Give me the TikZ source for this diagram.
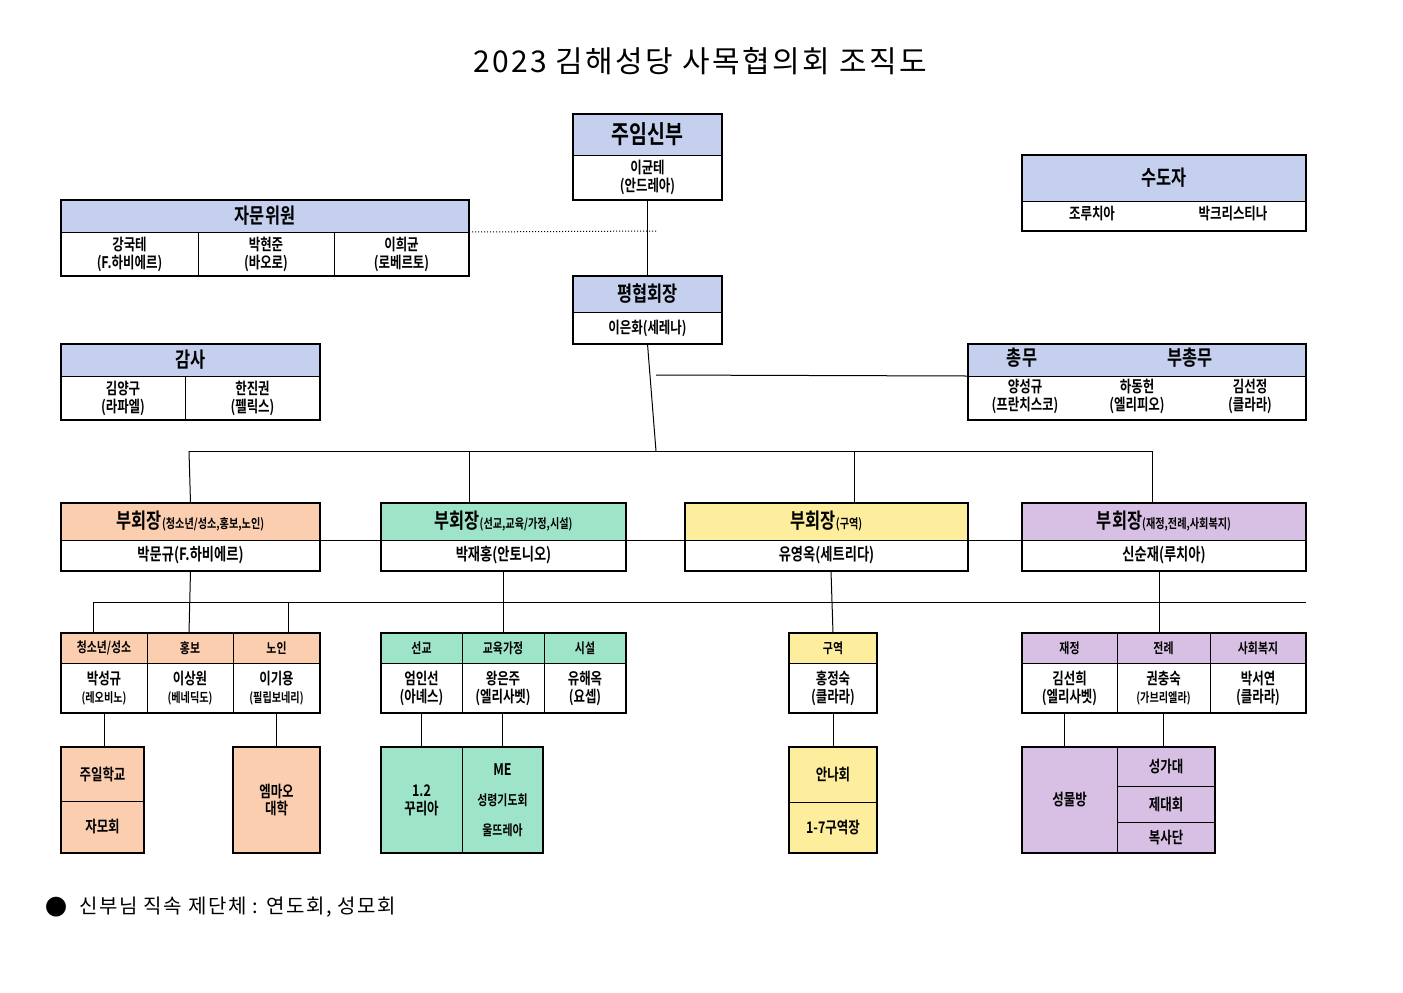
\documentclass[tikz,border=0pt]{standalone}
\usepackage{fontspec}
\setmainfont{Noto Sans CJK KR}[BoldFont={* Bold}]
\newfontfamily\condf{Noto Sans CJK KR Bold}[FakeStretch=0.78]
\newfontfamily\titlef{Noto Sans CJK KR}[LetterSpace=8]
\definecolor{hdblue}{RGB}{196,208,238}
\definecolor{hdpeach}{RGB}{252,206,176}
\definecolor{hdgreen}{RGB}{158,228,200}
\definecolor{hdyellow}{RGB}{253,238,158}
\definecolor{hdpurple}{RGB}{216,192,228}
\newcommand\bigtxt{\condf\fontsize{12.5}{14}\selectfont}
\newcommand\midtxt{\condf\fontsize{10.5}{12}\selectfont}
\newcommand\smalltxt{\condf\fontsize{7}{8}\selectfont}
\tikzset{
  cellbox/.style={draw, line width=0.5pt, inner sep=0pt, outer sep=0pt, align=center, font=\condf\fontsize{8}{9}\selectfont},
  frame/.style={draw, line width=1.1pt},
  link/.style={draw, line width=0.5pt},
}
% name, x, y, width, height, fill, text
\newcommand\cell[7]{\node[cellbox, fill=#6, minimum width=#4*0.5pt, minimum height=#5*0.5pt, anchor=north west] (#1) at (#2,#3) {#7};}
\newcommand\sub[1]{{\fontsize{6.5}{7}\selectfont #1}}
\begin{document}
\begin{tikzpicture}[x=0.5pt, y=-0.5pt]
\useasboundingbox (0,0) rectangle (1403,992);
\node[font=\titlef\fontsize{15}{18}\selectfont] (title) at (700,61) {2023 김해성당 사목협의회 조직도};

% top
\cell{jh}{573}{114}{149}{41}{hdblue}{\bigtxt 주임신부}
\cell{jb}{573}{155}{149}{45}{white}{이균테\\(안드레아)}
\draw[frame] (jh.north west) rectangle (jb.south east);

\cell{ph}{573}{276}{149}{36}{hdblue}{\midtxt 평협회장}
\cell{pb}{573}{312}{149}{32}{white}{이은화(세레나)}
\draw[frame] (ph.north west) rectangle (pb.south east);

\cell{ah}{61}{200}{408}{32}{hdblue}{\midtxt 자문위원}
\cell{a1}{61}{232}{137}{44}{white}{강국테\\(F.하비에르)}
\cell{a2}{198}{232}{136}{44}{white}{박현준\\(바오로)}
\cell{a3}{334}{232}{135}{44}{white}{이희균\\(로베르토)}
\draw[frame] (ah.north west) rectangle (a3.south east);

\cell{gh}{61}{344}{259}{32}{hdblue}{\midtxt 감사}
\cell{g1}{61}{376}{124}{44}{white}{김양구\\(라파엘)}
\cell{g2}{185}{376}{135}{44}{white}{한진권\\(펠릭스)}
\draw[frame] (gh.north west) rectangle (g2.south east);

\cell{sh}{1022}{155}{284}{46}{hdblue}{\midtxt 수도자}
\cell{sb}{1022}{201}{284}{30}{white}{}
\node[cellbox, draw=none] (s1) at (1092,214) {조루치아};
\node[cellbox, draw=none] (s2) at (1233,214) {박크리스티나};
\draw[frame] (sh.north west) rectangle (sb.south east);

\cell{ch}{968}{344}{338}{32}{hdblue}{}
\cell{cb}{968}{376}{338}{44}{white}{}
\node[cellbox, draw=none] (c0) at (1022,358) {\midtxt 총무};
\node[cellbox, draw=none] (c00) at (1190,358) {\midtxt 부총무};
\node[cellbox, draw=none] (c1) at (1025,396) {양성규\\(프란치스코)};
\node[cellbox, draw=none] (c2) at (1137,396) {하동헌\\(엘리피오)};
\node[cellbox, draw=none] (c3) at (1250,396) {김선정\\(클라라)};
\draw[frame] (ch.north west) rectangle (cb.south east);

% vice presidents
\cell{v1h}{61}{503}{259}{37}{hdpeach}{{\midtxt 부회장}\sub{(청소년/성소,홍보,노인)}}
\cell{v1b}{61}{540}{259}{31}{white}{\fontsize{8.5}{9}\selectfont 박문규(F.하비에르)}
\cell{v2h}{381}{503}{245}{37}{hdgreen}{{\midtxt 부회장}\sub{(선교,교육/가정,시설)}}
\cell{v2b}{381}{540}{245}{31}{white}{\fontsize{8.5}{9}\selectfont 박재홍(안토니오)}
\cell{v3h}{685}{503}{283}{37}{hdyellow}{{\midtxt 부회장}\sub{(구역)}}
\cell{v3b}{685}{540}{283}{31}{white}{\fontsize{8.5}{9}\selectfont 유영옥(세트리다)}
\cell{v4h}{1022}{503}{284}{37}{hdpurple}{{\midtxt 부회장}\sub{(재정,전례,사회복지)}}
\cell{v4b}{1022}{540}{284}{31}{white}{\fontsize{8.5}{9}\selectfont 신순재(루치아)}
\foreach \v in {1,...,4} {\draw[frame] (v\v h.north west) rectangle (v\v b.south east);}

% departments
\cell{d1h}{61}{633}{86}{30}{hdpeach}{\smalltxt 청소년/성소}
\cell{d2h}{147}{633}{86}{30}{hdpeach}{\smalltxt 홍보}
\cell{d3h}{233}{633}{87}{30}{hdpeach}{\smalltxt 노인}
\cell{d1b}{61}{663}{86}{50}{white}{박성규\\\sub{(레오비노)}}
\cell{d2b}{147}{663}{86}{50}{white}{이상원\\\sub{(베네딕도)}}
\cell{d3b}{233}{663}{87}{50}{white}{이기용\\\sub{(필립보네리)}}
\draw[frame] (d1h.north west) rectangle (d3b.south east);

\cell{e1h}{381}{633}{81}{30}{hdgreen}{\smalltxt 선교}
\cell{e2h}{462}{633}{82}{30}{hdgreen}{\smalltxt 교육가정}
\cell{e3h}{544}{633}{82}{30}{hdgreen}{\smalltxt 시설}
\cell{e1b}{381}{663}{81}{50}{white}{엄인선\\(아녜스)}
\cell{e2b}{462}{663}{82}{50}{white}{왕은주\\(엘리사벳)}
\cell{e3b}{544}{663}{82}{50}{white}{유해옥\\(요셉)}
\draw[frame] (e1h.north west) rectangle (e3b.south east);

\cell{f1h}{789}{633}{88}{30}{hdyellow}{\smalltxt 구역}
\cell{f1b}{789}{663}{88}{50}{white}{홍정숙\\(클라라)}
\draw[frame] (f1h.north west) rectangle (f1b.south east);

\cell{k1h}{1022}{633}{95}{30}{hdpurple}{\smalltxt 재정}
\cell{k2h}{1117}{633}{93}{30}{hdpurple}{\smalltxt 전례}
\cell{k3h}{1210}{633}{96}{30}{hdpurple}{\smalltxt 사회복지}
\cell{k1b}{1022}{663}{95}{50}{white}{김선희\\(엘리사벳)}
\cell{k2b}{1117}{663}{93}{50}{white}{권충숙\\\sub{(가브리엘라)}}
\cell{k3b}{1210}{663}{96}{50}{white}{박서연\\(클라라)}
\draw[frame] (k1h.north west) rectangle (k3b.south east);

% groups
\cell{b1}{61}{747}{83}{54}{hdpeach}{주일학교}
\cell{b2}{61}{801}{83}{52}{hdpeach}{자모회}
\draw[frame] (b1.north west) rectangle (b2.south east);
\cell{b3}{233}{747}{87}{106}{hdpeach}{엠마오\\대학}
\draw[frame] (b3.north west) rectangle (b3.south east);
\cell{b4}{381}{747}{81}{106}{hdgreen}{1.2\\꾸리아}
\cell{b5}{462}{747}{81}{106}{hdgreen}{ME\\[6pt]{\smalltxt 성령기도회}\\[6pt]{\smalltxt 울뜨레아}}
\draw[frame] (b4.north west) rectangle (b5.south east);
\cell{b6}{789}{747}{88}{55}{hdyellow}{안나회}
\cell{b7}{789}{802}{88}{51}{hdyellow}{1-7구역장}
\draw[frame] (b6.north west) rectangle (b7.south east);
\cell{b8}{1022}{747}{95}{106}{hdpurple}{성물방}
\cell{b9}{1117}{747}{98}{39}{hdpurple}{성가대}
\cell{b10}{1117}{786}{98}{36}{hdpurple}{제대회}
\cell{b11}{1117}{822}{98}{31}{hdpurple}{복사단}
\draw[frame] (b8.north west) rectangle (b11.south east);

% connectors
\coordinate (dotE) at (656,231);
\coordinate (busL) at (189,451);
\coordinate (busR) at (1152,451);
\coordinate (midL) at (93,602);
\coordinate (midR) at (1306,602);
\draw[link] (jb.south) -- (ph.north);
\draw[link, densely dotted] (ah.south east) -- (dotE);
\draw[link] (pb.south) -- (656,451);
\draw[link] (656,375) -- (cb.north west);
\draw[link] (busL) -- (busR);
\draw[link] (busL) -- (v1h.north);
\draw[link] (469,451) -- (469,503);
\draw[link] (854,451) -- (854,503);
\draw[link] (busR) -- (1152,503);
\draw[link] (v1h.south east) -- (v4h.south west);
\draw[link] (midL) -- (midR);
\draw[link] (midL) -- (93,633);
\draw[link] (v1b.south) -- (189,633);
\draw[link] (288,602) -- (288,633);
\draw[link] (v2b.south -| e2h.north) -- (e2h.north);
\draw[link] (831,571) -- (f1h.north);
\draw[link] (1159,571) -- (1159,633);
\draw[link] (104,747) -- (104,713);
\draw[link] (b3.north) -- (b3.north |- d3b.south);
\draw[link] (b4.north) -- (b4.north |- e1b.south);
\draw[link] (b5.north) -- (b5.north |- e2b.south);
\draw[link] (f1b.south) -- (b6.north);
\draw[link] (1064,747) -- (1064,713);
\draw[link] (1163,747) -- (1163,713);

% note
\node[font=\fontsize{11}{12}\selectfont] (dot) at (57,907) {●};
\node[anchor=west, font=\titlef\fontsize{10}{12}\selectfont] (note) at (72,907) {신부님 직속 제단체 : 연도회, 성모회};
\end{tikzpicture}
\end{document}
